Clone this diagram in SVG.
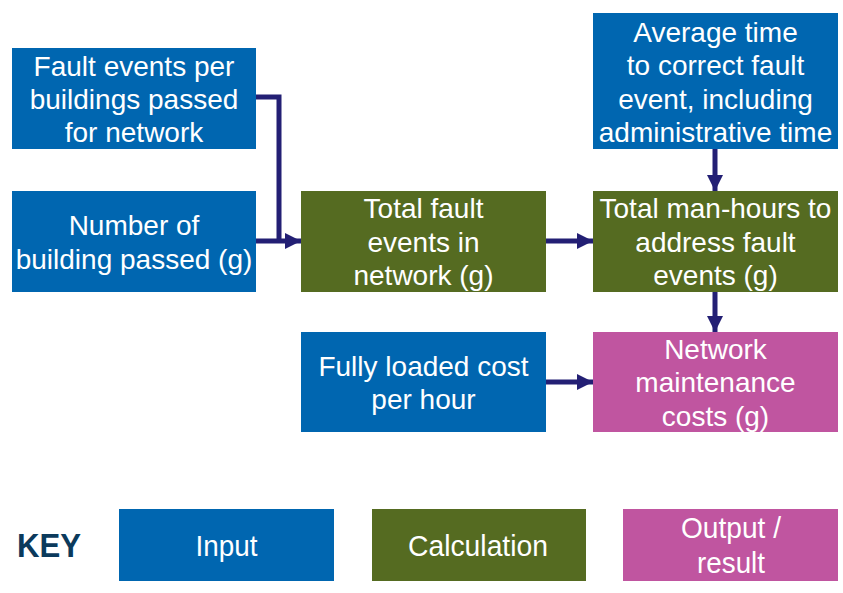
<svg xmlns="http://www.w3.org/2000/svg" width="843" height="593" viewBox="0 0 843 593">
<defs>
<style>
.in{fill:#0066B0}.calc{fill:#556B21}.out{fill:#C055A0}
text{font-family:"Liberation Sans",Arial,sans-serif;font-size:28px;fill:#fff;text-anchor:middle}
.key{font-size:30px}
.conn{fill:none;stroke:#231F74;stroke-width:5}
</style>
<marker id="ah" viewBox="0 0 10 10" refX="10" refY="5" markerWidth="3.2" markerHeight="3.2" orient="auto" markerUnits="strokeWidth">
<path d="M0,0L10,5L0,10z" fill="#231F74"/>
</marker>
</defs>
<rect width="843" height="593" fill="#fff"/>
<g id="connectors">
<polyline class="conn" points="256,97 279,97 279,241"/>
<line class="conn" x1="256" y1="241" x2="301" y2="241" marker-end="url(#ah)"/>
<line class="conn" x1="546" y1="241" x2="593" y2="241" marker-end="url(#ah)"/>
<line class="conn" x1="715" y1="149" x2="715" y2="191" marker-end="url(#ah)"/>
<line class="conn" x1="715" y1="292" x2="715" y2="332" marker-end="url(#ah)"/>
<line class="conn" x1="546" y1="382" x2="593" y2="382" marker-end="url(#ah)"/>
</g>
<g id="fault-events">
<rect class="in" x="12" y="48" width="244" height="101"/>
<text x="134" y="76">Fault events per</text>
<text x="134" y="109">buildings passed</text>
<text x="134" y="142">for network</text>
</g>
<g id="buildings">
<rect class="in" x="12" y="191" width="244" height="101"/>
<text x="134" y="235">Number of</text>
<text x="134" y="269">building passed (g)</text>
</g>
<g id="total-fault">
<rect class="calc" x="301" y="191" width="245" height="101"/>
<text x="423.5" y="218">Total fault</text>
<text x="423.5" y="252">events in</text>
<text x="423.5" y="285">network (g)</text>
</g>
<g id="avg-time">
<rect class="in" x="593" y="13" width="245" height="136"/>
<text x="715.5" y="42">Average time</text>
<text x="715.5" y="75">to correct fault</text>
<text x="715.5" y="109">event, including</text>
<text x="715.5" y="142">administrative time</text>
</g>
<g id="man-hours">
<rect class="calc" x="593" y="191" width="245" height="101"/>
<text x="715.5" y="218">Total man-hours to</text>
<text x="715.5" y="252">address fault</text>
<text x="715.5" y="285">events (g)</text>
</g>
<g id="cost-hour">
<rect class="in" x="301" y="332" width="245" height="100"/>
<text x="423.5" y="376">Fully loaded cost</text>
<text x="423.5" y="409">per hour</text>
</g>
<g id="maintenance">
<rect class="out" x="593" y="332" width="245" height="100"/>
<text x="715.5" y="359">Network</text>
<text x="715.5" y="392">maintenance</text>
<text x="715.5" y="426">costs (g)</text>
</g>
<g id="key">
<text x="17" y="557" textLength="64" lengthAdjust="spacingAndGlyphs" style="font-weight:bold;font-size:33px;fill:#0B3A5C;text-anchor:start">KEY</text>
<rect class="in" x="119" y="509" width="215" height="72"/>
<text class="key" x="226.5" y="556" textLength="62" lengthAdjust="spacingAndGlyphs">Input</text>
<rect class="calc" x="372" y="509" width="214" height="72"/>
<text class="key" x="478" y="556" textLength="140" lengthAdjust="spacingAndGlyphs">Calculation</text>
<rect class="out" x="623" y="509" width="215" height="72"/>
<text class="key" x="731" y="538" textLength="100" lengthAdjust="spacingAndGlyphs">Output /</text>
<text class="key" x="731" y="573" textLength="68" lengthAdjust="spacingAndGlyphs">result</text>
</g>
</svg>
